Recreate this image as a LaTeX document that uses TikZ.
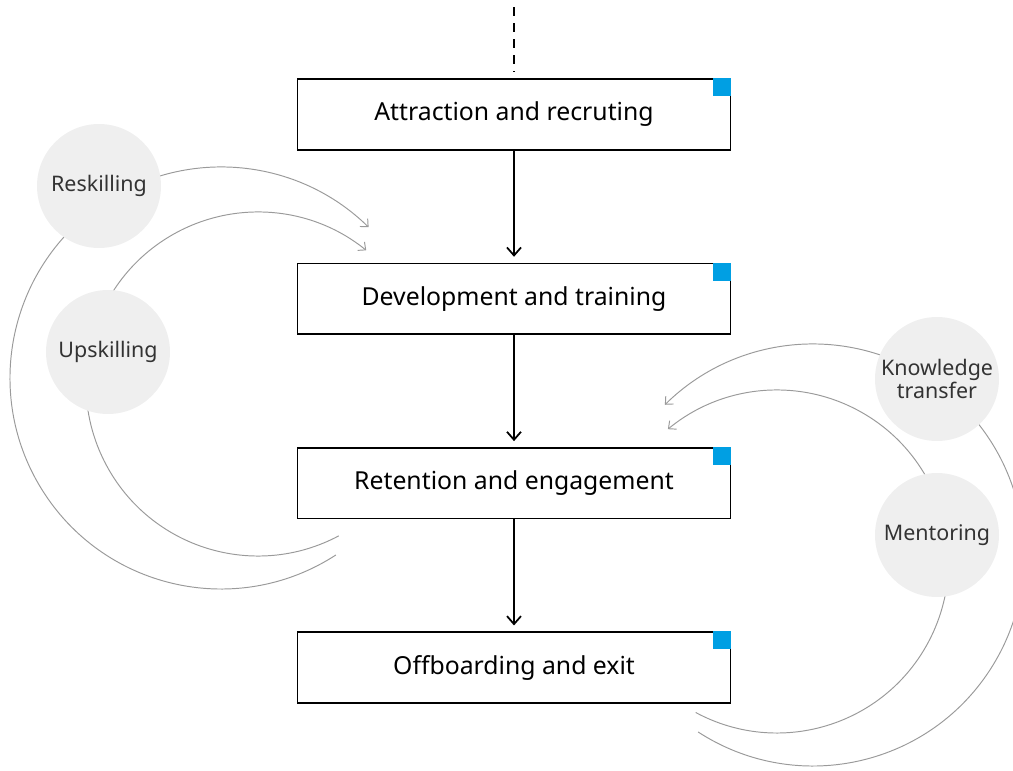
\documentclass[tikz,border=0pt]{standalone}
\usepackage{fontspec}
\setmainfont{Noto Sans}
\usepackage{tikz}
\usetikzlibrary{positioning}
\usetikzlibrary{calc}
\usetikzlibrary{arrows.meta}

\definecolor{tagBlue}{HTML}{009FE3}
\definecolor{bubbleGray}{HTML}{EFEFEF}
\definecolor{bubbleText}{HTML}{333333}
\definecolor{orbitGray}{HTML}{9A9A9A}

\tikzset{
	stage/.style={
		draw,
		line width=0.9pt,
		fill=white,
		minimum width=8.66cm,
		minimum height=1.41cm,
		font=\fontsize{14.1}{16}\selectfont
	},
	bubble/.style={
		circle,
		fill=bubbleGray,
		minimum size=2.48cm,
		inner sep=0pt,
		align=center,
		text=bubbleText,
		font=\fontsize{12.2}{13.6}\selectfont
	},
	flowArrow/.style={
		line width=1pt,
		-{Straight Barb[length=1.6mm, width=2.8mm]},
		shorten >=1.2mm
	},
	orbitArc/.style={
		orbitGray,
		line width=0.55pt,
		-{Straight Barb[length=1.2mm, width=2.2mm]}
	}
}

\begin{document}
\begin{tikzpicture}

	\clip (0,0) rectangle (20.26,-15.42);

	% lifecycle stages
	\node[stage] (attraction) at (10.28,-2.29) {Attraction and recruting};
	\node[stage, below=2.245cm of attraction] (development) {Development and training};
	\node[stage, below=2.245cm of development] (retention) {Retention and engagement};
	\node[stage, below=2.245cm of retention] (offboarding) {Offboarding and exit};

	% blue corner tags
	\foreach \stagename in {attraction, development, retention, offboarding}
		\fill[tagBlue] ($(\stagename.north east)+(-0.36,0)$) rectangle ++(0.36,-0.36);

	% incoming dashed line
	\coordinate[above=1.42cm of attraction.north] (entry);
	\draw[line width=0.9pt, dash pattern=on 0.17cm off 0.15cm, shorten >=0.13cm] (entry) -- (attraction.north);

	\draw[flowArrow] (attraction.south) -- (development.north);
	\draw[flowArrow] (development.south) -- (retention.north);
	\draw[flowArrow] (retention.south) -- (offboarding.north);

	% orbits behind the bubbles
	\coordinate (reskillOrbit) at (4.42,-7.56);
	\coordinate (upskillOrbit) at (5.16,-7.68);
	\coordinate (transferOrbit) at (16.26,-11.10);
	\coordinate (mentorOrbit) at (15.54,-11.23);

	\draw[orbitArc] ($(reskillOrbit)+(-57:4.22)$) arc[start angle=-57, end angle=-314.4, radius=4.22];
	\draw[orbitArc] ($(upskillOrbit)+(-62:3.44)$) arc[start angle=-62, end angle=-309, radius=3.44];
	\draw[orbitArc] ($(transferOrbit)+(237:4.22)$) arc[start angle=237, end angle=494.6, radius=4.22];
	\draw[orbitArc] ($(mentorOrbit)+(241.7:3.43)$) arc[start angle=241.7, end angle=489.5, radius=3.43];

	% skill bubbles
	\node[bubble] (reskilling) at (1.98,-3.72) {Reskilling};
	\node[bubble] (upskilling) at (2.16,-7.04) {Upskilling};
	\node[bubble] (knowledge) at (18.74,-7.58) {Knowledge\\transfer};
	\node[bubble] (mentoring) at (18.74,-10.70) {Mentoring};

\end{tikzpicture}
\end{document}
